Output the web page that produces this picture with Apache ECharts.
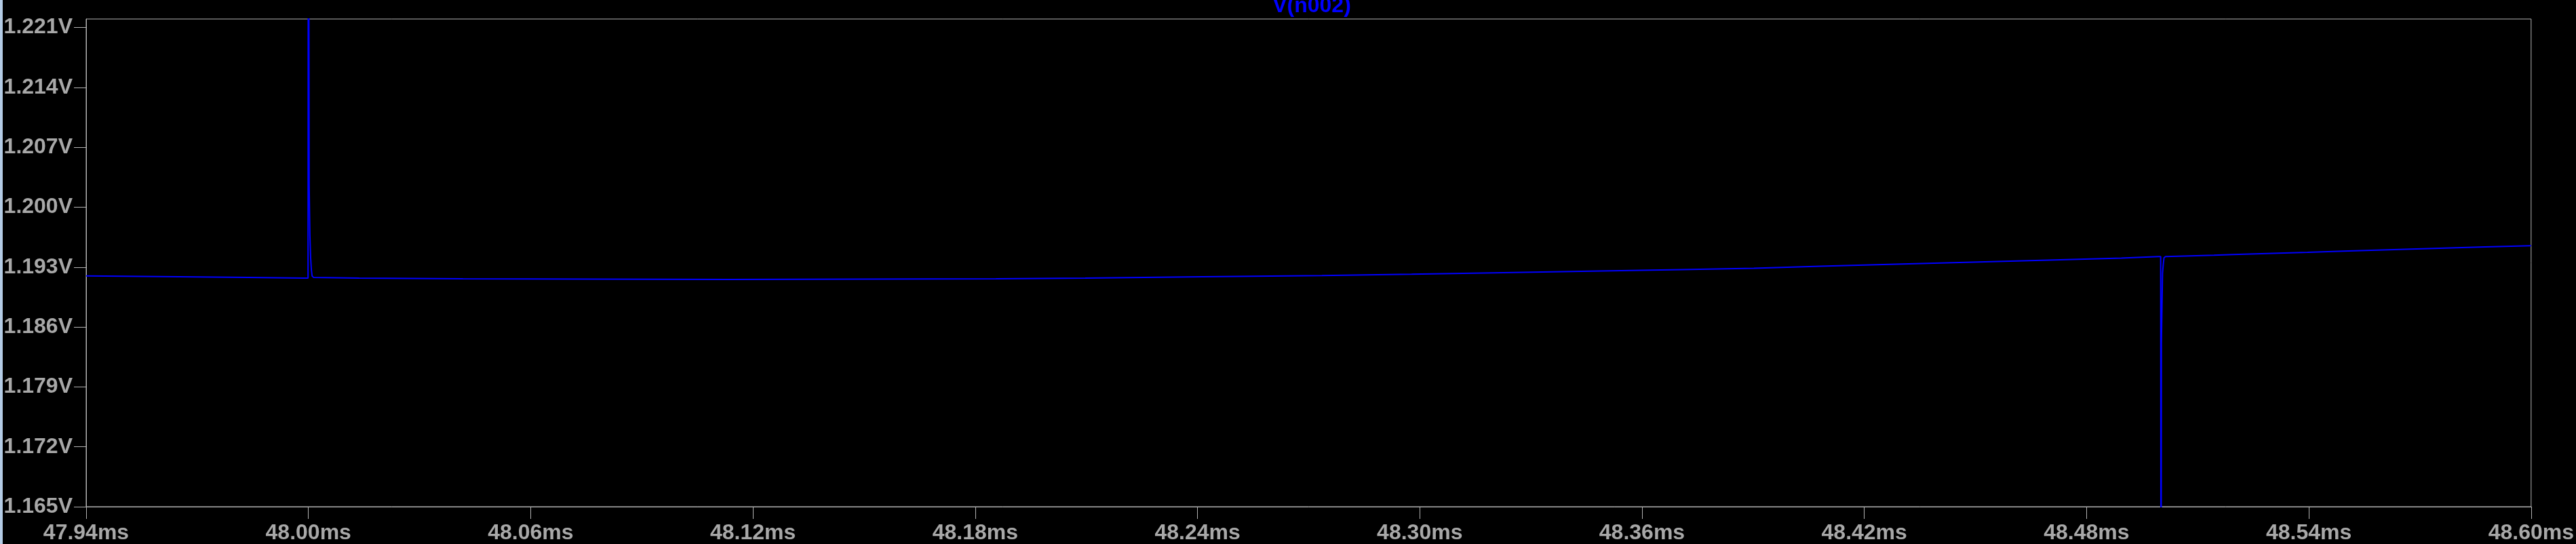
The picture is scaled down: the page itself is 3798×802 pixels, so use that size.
<!DOCTYPE html>
<html>
<head>
<meta charset="utf-8">
<script src="https://cdn.jsdelivr.net/npm/echarts@6/dist/echarts.min.js"></script>
<style>
html,body{margin:0;padding:0;background:#000;}
#chart{width:3798px;height:802px;}
</style>
</head>
<body>
<div id="chart"></div>
<script>
// ---- data (time in ms, voltage in V) ----
var seriesName = 'V(n002)';
var timeMs = [
  47.9400, 47.9650, 47.9838, 47.9989, 47.9999,
  48.0000, 48.0002, 48.0004, 48.0006, 48.0008, 48.0010, 48.0014,
  48.0137, 48.0417, 48.1136, 48.1856, 48.2097, 48.2415, 48.2736,
  48.2978, 48.3200, 48.3462, 48.3706, 48.3902, 48.4081, 48.4285,
  48.4492, 48.4696, 48.4894, 48.4994, 48.5000,
  48.5001, 48.5002, 48.5004, 48.5005, 48.5007, 48.5009, 48.5013,
  48.5080, 48.5144, 48.5195, 48.5396, 48.5507, 48.5630, 48.5752,
  48.5876, 48.6000
];
var voltV = [
  1.19197, 1.19187, 1.19179, 1.19171, 1.19171,
  1.26000, 1.20260, 1.19673, 1.19411, 1.19268, 1.19197, 1.19179,
  1.19171, 1.19163, 1.19155, 1.19163, 1.19171, 1.19187, 1.19202,
  1.19218, 1.19234, 1.19252, 1.19271, 1.19287, 1.19310, 1.19334,
  1.19358, 1.19382, 1.19406, 1.19424, 1.19424,
  1.14000, 1.18419, 1.18961, 1.19228, 1.19331, 1.19410, 1.19424,
  1.19432, 1.19440, 1.19448, 1.19472, 1.19488, 1.19504, 1.19520,
  1.19536, 1.19551
];
var xTicks = [47.94, 48.00, 48.06, 48.12, 48.18, 48.24, 48.30, 48.36, 48.42, 48.48, 48.54, 48.60];
var yTicks = [1.165, 1.172, 1.179, 1.186, 1.193, 1.200, 1.207, 1.214, 1.221];
var xRange = [47.94, 48.60];
var yRange = [1.165, 1.222];

var points = timeMs.map(function (t, i) { return [t, voltV[i]]; });

var gray = '#b4b4b4';
var labelColor = '#a8a8a8';
var fontFam = '"Liberation Sans", Arial, sans-serif';

var chart = echarts.init(document.getElementById('chart'), null, {renderer: 'canvas'});
chart.setOption({
  backgroundColor: '#000000',
  animation: false,
  grid: {
    left: 127, top: 28, right: 57, bottom: 55,
    show: true, borderColor: gray, borderWidth: 1, backgroundColor: '#000000'
  },
  graphic: [
    {type: 'rect', left: 0, top: 0, shape: {x: 0, y: 0, width: 4, height: 802}, style: {fill: '#b4cce6'}, silent: true},
    {type: 'text', silent: true, style: {x: 1934, y: -7, text: seriesName, fill: '#0000ff',
      font: 'bold 32px ' + fontFam, textAlign: 'center', textVerticalAlign: 'top'}}
  ],
  xAxis: {
    type: 'value', min: xRange[0], max: xRange[1],
    axisLine: {show: true, onZero: false, lineStyle: {color: gray, width: 1}},
    axisTick: {show: true, inside: false, length: 18, lineStyle: {color: gray, width: 1}, customValues: xTicks},
    axisLabel: {show: true, margin: 23, color: labelColor, fontSize: 32, fontWeight: 'bold', fontFamily: fontFam,
      customValues: xTicks, formatter: function (v) { return v.toFixed(2) + 'ms'; }},
    splitLine: {show: false}
  },
  yAxis: {
    type: 'value', min: yRange[0], max: yRange[1],
    axisLine: {show: true, onZero: false, lineStyle: {color: gray, width: 1}},
    axisTick: {show: true, inside: false, length: 18, lineStyle: {color: gray, width: 1}, customValues: yTicks},
    axisLabel: {show: true, margin: 20, color: labelColor, fontSize: 32, fontWeight: 'bold', fontFamily: fontFam,
      customValues: yTicks, formatter: function (v) { return v.toFixed(3) + 'V'; }},
    splitLine: {show: false}
  },
  series: [{
    name: seriesName,
    type: 'line',
    data: points,
    showSymbol: false,
    clip: true,
    lineStyle: {color: '#0000ff', width: 2},
    itemStyle: {color: '#0000ff'}
  }]
});
</script>
</body>
</html>
